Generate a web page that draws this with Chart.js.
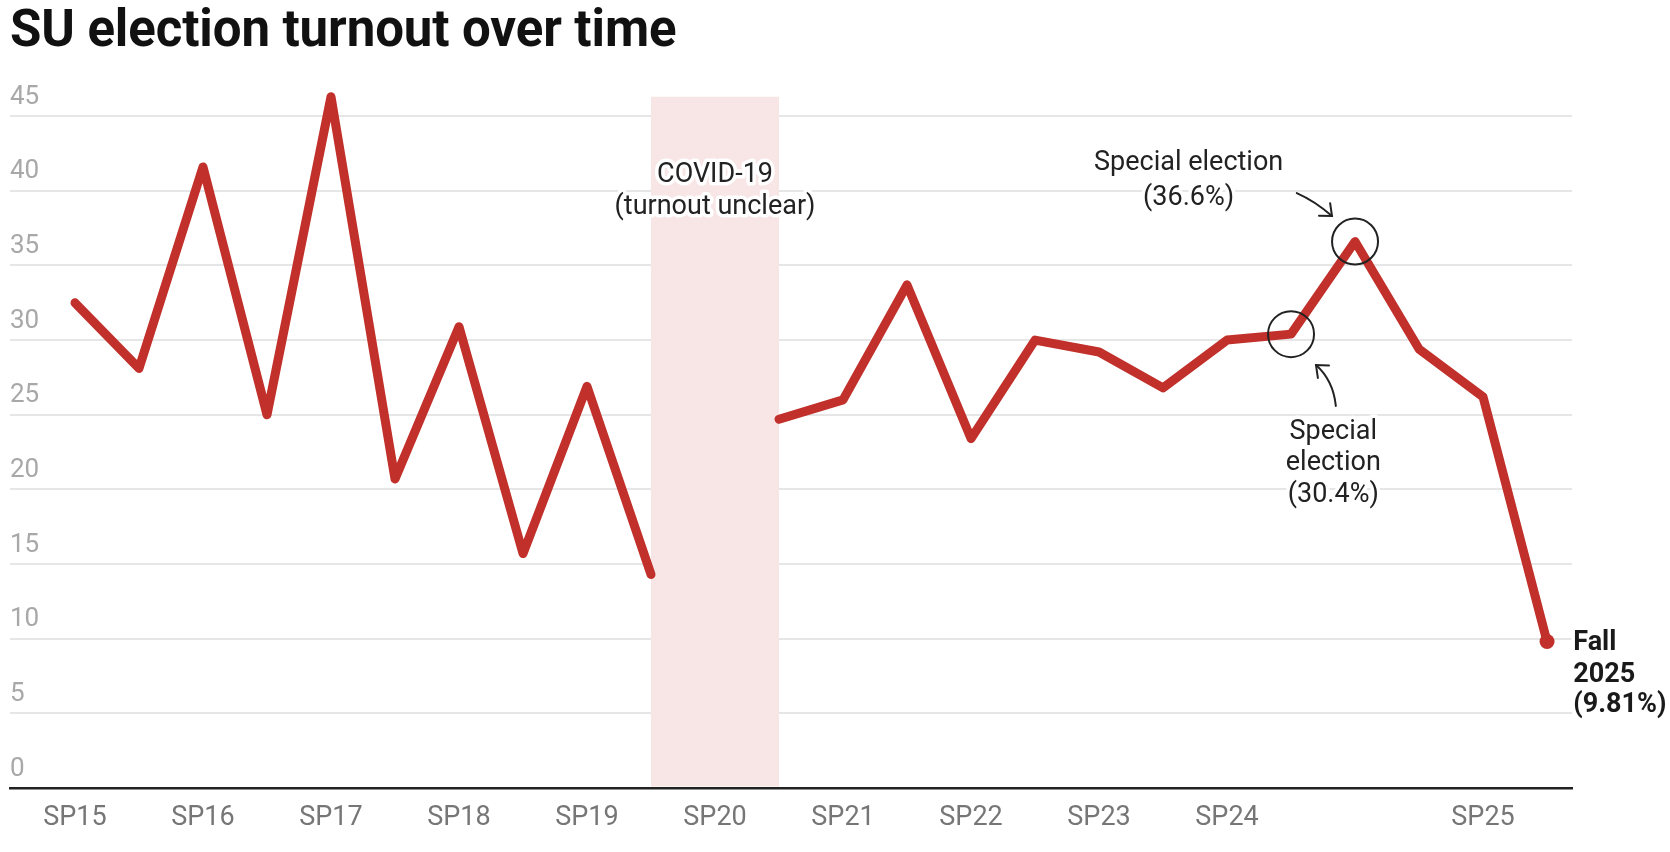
<!DOCTYPE html>
<html><head><meta charset="utf-8">
<script src="https://cdn.jsdelivr.net/npm/chart.js@4.4.1/dist/chart.umd.min.js"></script>
<style>
html,body{margin:0;padding:0;background:#fff;overflow:hidden;}
#wrap{position:relative;width:1670px;height:852px;}
#title{position:absolute;left:10px;top:3px;font-family:Roboto,'Liberation Sans',sans-serif;font-weight:700;font-size:51px;color:#111;white-space:nowrap;transform-origin:0 0;line-height:1;letter-spacing:-0.1px;}
canvas{position:absolute;left:0;top:0;}
</style></head><body>
<div id="wrap"><canvas id="c" width="1670" height="852"></canvas><div id="title">SU election turnout over time</div></div>
<script>
// ---- data ----
const categories = ['SP15','F15','SP16','F16','SP17','F17','SP18','F18','SP19','F19','SP20','F20',
  'SP21','F21','SP22','F22','SP23','F23','SP24','Special SP24','Special F24','F24','SP25','Fall 2025'];
const turnout = [32.5,28.1,41.6,25.0,46.3,20.7,30.9,15.7,26.9,14.3,null,24.7,
  26.0,33.7,23.4,30.0,29.2,26.8,30.0,30.4,36.6,29.4,26.2,9.81];
const tickLabels = ['SP15','','SP16','','SP17','','SP18','','SP19','','SP20','',
  'SP21','','SP22','','SP23','','SP24','','','','SP25',''];
const yTicks = [0,5,10,15,20,25,30,35,40,45];
const covidStart = 9, covidEnd = 11, covidTop = 46.3;

const RED = '#c1302b';
Chart.defaults.font.family = 'Roboto';

function haloText(ctx, lines, px, pys, align, font, color){
  ctx.save();
  ctx.font = font; ctx.textAlign = align; ctx.textBaseline = 'middle';
  ctx.lineJoin = 'round';
  lines.forEach((t,i)=>{
    ctx.strokeStyle = '#fff'; ctx.lineWidth = 7; ctx.strokeText(t, px, pys[i]);
    ctx.fillStyle = color; ctx.fillText(t, px, pys[i]);
  });
  ctx.restore();
}
function arrow(ctx, p0, c, p1){
  ctx.save();
  ctx.strokeStyle = '#222'; ctx.lineWidth = 2; ctx.lineCap = 'round';
  ctx.beginPath(); ctx.moveTo(p0[0],p0[1]); ctx.quadraticCurveTo(c[0],c[1],p1[0],p1[1]); ctx.stroke();
  const ang = Math.atan2(p1[1]-c[1], p1[0]-c[0]);
  const L = 13, a = 0.7;
  ctx.beginPath();
  ctx.moveTo(p1[0]-L*Math.cos(ang-a), p1[1]-L*Math.sin(ang-a));
  ctx.lineTo(p1[0],p1[1]);
  ctx.lineTo(p1[0]-L*Math.cos(ang+a), p1[1]-L*Math.sin(ang+a));
  ctx.stroke();
  ctx.restore();
}

const annot = {
  id:'annot',
  beforeDatasetsDraw(chart){
    const {ctx, scales:{x,y}, chartArea} = chart;
    const x0 = x.getPixelForValue(covidStart), x1 = x.getPixelForValue(covidEnd);
    const yt = y.getPixelForValue(covidTop);
    ctx.save(); ctx.fillStyle = '#f7e6e5';
    ctx.fillRect(x0, yt, x1-x0, chartArea.bottom - 1.5 - yt); ctx.restore();
  },
  afterDatasetsDraw(chart){
    const {ctx, scales:{x,y}} = chart;
    const X = v=>x.getPixelForValue(v), Y = v=>y.getPixelForValue(v);
    const reg = '27px Roboto', bold = 'bold 27px Roboto';
    haloText(ctx, ['COVID-19','(turnout unclear)'], X((covidStart+covidEnd)/2), [Y(41.06),Y(38.9)], 'center', reg, '#222');
    haloText(ctx, ['Special election','(36.6%)'], X(17.4), [Y(41.86),Y(39.5)], 'center', reg, '#222');
    haloText(ctx, ['Special','election','(30.4%)'], X(19.66), [Y(23.84),Y(21.77),Y(19.6)], 'center', reg, '#222');
    haloText(ctx, ['Fall','2025','(9.81%)'], X(23.41), [Y(9.71),Y(7.57),Y(5.56)], 'left', bold, '#1a1a1a');
    // circles around special elections
    ctx.save(); ctx.strokeStyle = '#222'; ctx.lineWidth = 2;
    [19,20].forEach(i=>{ ctx.beginPath(); ctx.arc(X(i), Y(turnout[i]), 23, 0, Math.PI*2); ctx.stroke(); });
    ctx.restore();
    // arrows
    arrow(ctx, [X(19.09),Y(39.85)], [X(19.38),Y(39.3)], [X(19.64),Y(38.31)]);
    arrow(ctx, [X(19.70),Y(25.59)], [X(19.66),Y(27.3)], [X(19.39),Y(28.33)]);
  }
};

new Chart(document.getElementById('c'), {
  type:'line',
  data:{ datasets:[{
    data: turnout.map((v,i)=>({x:i, y:v})),
    borderColor: RED, borderWidth: 9, borderCapStyle:'round', borderJoinStyle:'round',
    tension:0, spanGaps:false,
    pointRadius: ctx=> ctx.dataIndex===turnout.length-1 ? 7.5 : 0,
    pointHoverRadius: 0,
    pointBackgroundColor: RED, pointBorderWidth: 0
  }]},
  options:{
    responsive:false, animation:false, devicePixelRatio:1,
    layout:{padding:{left:10,right:98,top:41.5,bottom:0}},
    plugins:{legend:{display:false}, tooltip:{enabled:false}},
    scales:{
      x:{ type:'linear', min:-1.0156, max:23.39,
        afterBuildTicks: s=>{ s.ticks = tickLabels.map((t,i)=>t?{value:i}:null).filter(Boolean); },
        afterFit: s=>{ s.height = 64; },
        grid:{display:false, drawTicks:false},
        border:{display:true, color:'#222', width:2.5},
        ticks:{ autoSkip:false, maxRotation:0, minRotation:0, padding:14, color:'#767676',
          font:{size:27}, callback: v=> tickLabels[v] || '' }
      },
      y:{ min:0, max:50,
        afterBuildTicks: s=>{ s.ticks = yTicks.map(v=>({value:v})); },
        afterFit: s=>{ s.width = 0; },
        grid:{color:'#e6e6e6', lineWidth:2, drawTicks:false},
        border:{display:false},
        ticks:{ mirror:true, padding:0, labelOffset:-19, color:'#a8a8a8', font:{size:26} }
      }
    }
  },
  plugins:[annot]
});
</script>
</body></html>
